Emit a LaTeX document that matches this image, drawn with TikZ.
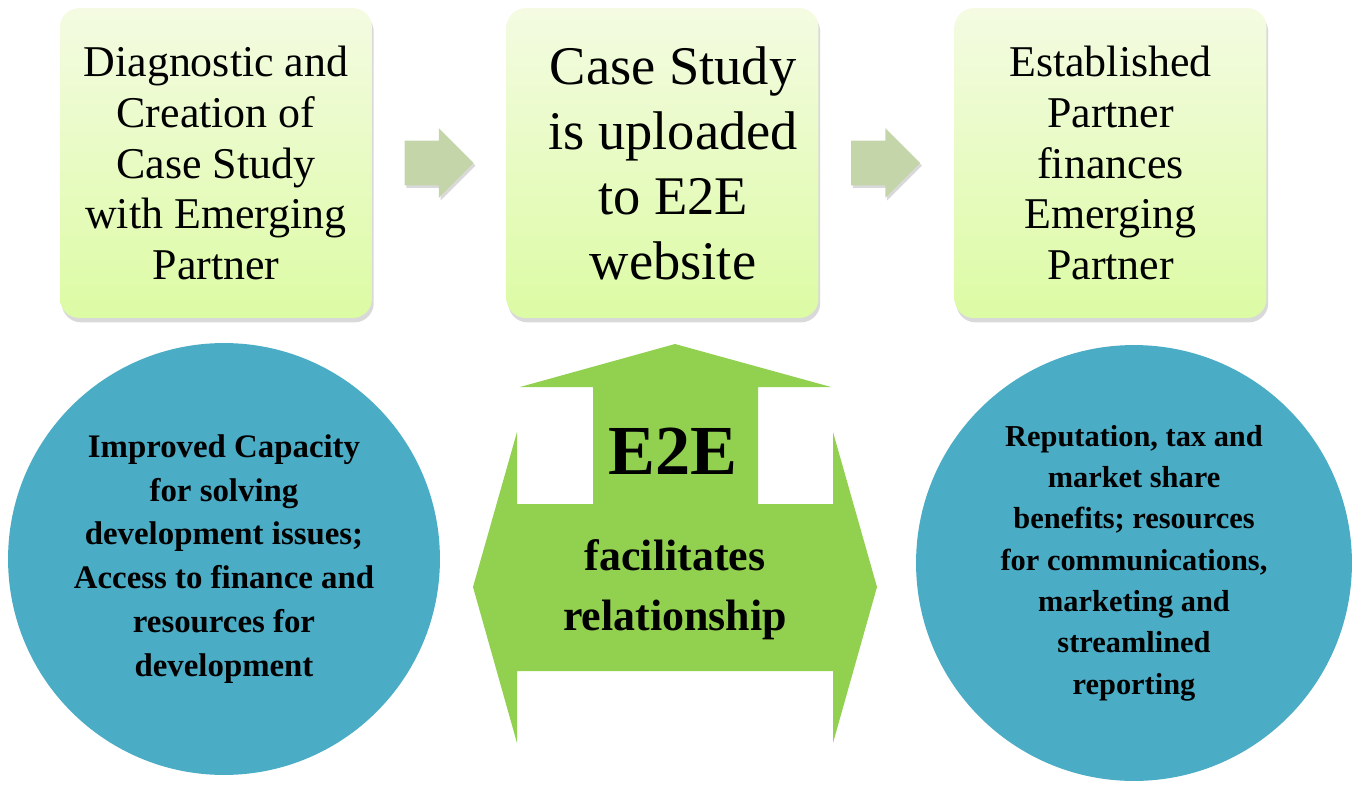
\documentclass[tikz,border=0pt]{standalone}
\usepackage{fontspec}
\setmainfont{Liberation Serif}
\usetikzlibrary{shapes.arrows,shadows,calc}
\definecolor{boxtop}{HTML}{F4FBE2}
\definecolor{boxbot}{HTML}{DCFBA4}
\definecolor{stepgreen}{HTML}{C4D6A9}
\definecolor{linkgreen}{HTML}{92D050}
\definecolor{gaincyan}{HTML}{4BACC6}
\tikzset{
  stage/.style={rounded corners=11pt, minimum width=6.24cm, minimum height=6.2cm,
    top color=boxtop, bottom color=boxbot, inner sep=0pt, align=center,
    drop shadow={shadow xshift=1pt, shadow yshift=-2.5pt, opacity=0.3}},
  nextarrow/.style={single arrow, fill=stepgreen, minimum height=1.38cm,
    single arrow head extend=7.1pt, inner xsep=0pt, inner ysep=12.5pt, anchor=tail,
    drop shadow={shadow xshift=1pt, shadow yshift=-1.5pt, opacity=0.3}},
  gain/.style={circle, fill=gaincyan, inner sep=0pt, align=center},
}

\begin{document}
\begin{tikzpicture}[x=0.02cm,y=-0.02cm]
    \useasboundingbox (0,0) rectangle (1357,785);
    % top row
    \node[stage, font=\fontsize{25}{29}\selectfont] at (216,163) (diag)
        {Diagnostic and\\Creation of\\Case Study\\with Emerging\\Partner};
    \node[stage, font=\fontsize{31}{37}\selectfont] at (662.5,163) (upload)
        {\hspace*{12pt}Case Study\\\hspace*{12pt}is uploaded\\\hspace*{12pt}to E2E\\\hspace*{12pt}website};
    \node[stage, font=\fontsize{25}{29}\selectfont] at (1110.5,163) (finance)
        {Established\\Partner\\finances\\Emerging\\Partner};
    \node[nextarrow] at ($(diag.east)+(32,0)$) (a1) {};
    \node[nextarrow] at ($(upload.east)+(32,0)$) (a2) {};
    % E2E arrow
    \fill[linkgreen] (675,344) -- (831,387) -- (758,387) -- (758,504) -- (833,504)
        -- (833,432) -- (877,587) -- (833,743) -- (833,671) -- (517,671) -- (517,743)
        -- (473,587) -- (517,432) -- (517,504) -- (593,504) -- (593,387) -- (520,387) -- cycle;
    \node[font=\bfseries\fontsize{40}{40}\selectfont] at (673,451) (e2e) {E2E};
    \node[font=\bfseries\fontsize{25}{34}\selectfont, align=center] at (675,590) (rel)
        {facilitates\\relationship};
    % benefits
    \node[gain, minimum size=8.64cm, font=\bfseries\fontsize{18.7}{25}\selectfont] at (224,559) (emerg)
        {Improved Capacity\\for solving\\development issues;\\Access to finance and\\resources for\\development};
    \node[gain, minimum size=8.72cm, font=\bfseries\fontsize{17.3}{23.5}\selectfont] at (1134,563) (estab)
        {Reputation, tax and\\market share\\benefits; resources\\for communications,\\marketing and\\streamlined\\reporting};
\end{tikzpicture}
\end{document}
